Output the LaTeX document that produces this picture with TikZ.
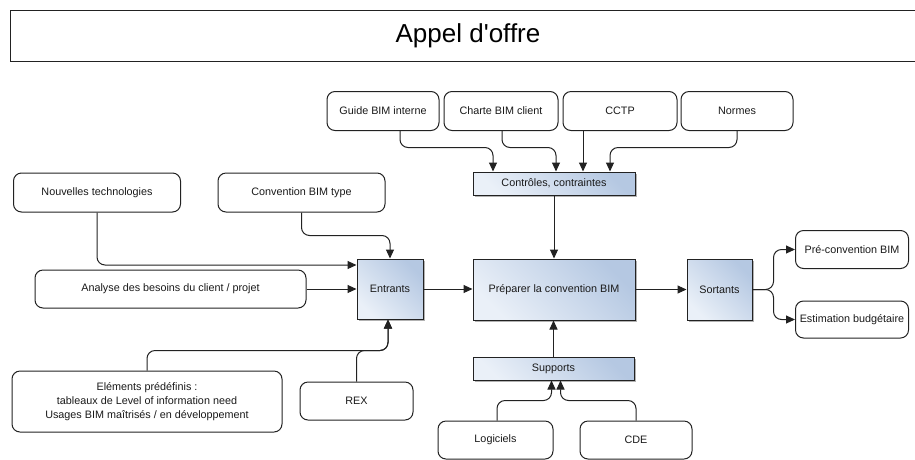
\documentclass[tikz,border=0pt]{standalone}
\usepackage{fontspec}
\setmainfont{Liberation Sans}
\usetikzlibrary{arrows.meta,shadows,calc}
\definecolor{gLight}{HTML}{EAF0F8}
\definecolor{gDark}{HTML}{B5C8E2}
\definecolor{lineC}{HTML}{222222}
\definecolor{txtC}{HTML}{1A1A1A}
\tikzset{
  rbox/.style={draw=lineC, line width=1pt, rounded corners=8pt, fill=white, align=center,
    inner sep=0pt, text=txtC, font=\fontsize{10.8}{14}\selectfont},
  gbox/.style={draw=lineC, line width=1pt, align=center, inner sep=0pt, text=txtC,
    font=\fontsize{10.8}{14}\selectfont, shading=axis, top color=gLight, bottom color=gDark, shading angle=135,
    drop shadow={shadow xshift=2pt, shadow yshift=-2pt, fill=black, opacity=0.3}},
  arr/.style={draw=lineC, line width=1pt, rounded corners=8pt, -{Triangle[length=9pt,width=8pt]}}
}
\begin{document}
\begin{tikzpicture}[x=1pt,y=-1pt]
\useasboundingbox (0,0) rectangle (915,459);
\fill[white] (0,0) rectangle (915,459);
% title
\node[draw=lineC, line width=1pt, minimum width=915pt, minimum height=51pt, inner sep=0pt, anchor=north west] (title) at (10,10) {};
\node[font=\fontsize{26}{30}\selectfont, text=black] (titletxt) at (468,36) {Appel d\textquotesingle offre};
% top boxes
\node[rbox, minimum width=112pt, minimum height=39pt] (guide) at (383,111) {Guide BIM interne};
\node[rbox, minimum width=114pt, minimum height=39pt] (charte) at (501,111) {Charte BIM client};
\node[rbox, minimum width=114pt, minimum height=39pt] (cctp) at (620,111) {CCTP};
\node[rbox, minimum width=112pt, minimum height=39pt] (normes) at (737,111) {Normes};
\node[gbox, minimum width=162pt, minimum height=23pt] (ctrl) at (554,183.5) {Contrôles, contraintes};
% left boxes
\node[rbox, minimum width=167pt, minimum height=39pt] (nouv) at (97,192.5) {Nouvelles technologies};
\node[rbox, minimum width=167pt, minimum height=39pt] (conv) at (301.5,192.5) {Convention BIM type};
\node[rbox, minimum width=271pt, minimum height=38pt] (analyse) at (170.5,289) {Analyse des besoins du client / projet};
% main row
\node[gbox, minimum width=66pt, minimum height=60pt] (entrants) at (390,289) {Entrants};
\node[gbox, minimum width=162pt, minimum height=61pt] (prep) at (554,289.5) {Préparer la convention BIM};
\node[gbox, minimum width=65pt, minimum height=61pt] (sortants) at (719.5,289.5) {Sortants};
% outputs
\node[rbox, minimum width=113pt, minimum height=38pt] (pre) at (852,249.5) {Pré-convention BIM};
\node[rbox, minimum width=113pt, minimum height=37pt] (estim) at (852,319.5) {Estimation budgétaire};
% bottom
\node[rbox, minimum width=270pt, minimum height=61pt] (elem) at (147,401.5) {Eléments prédéfinis :\\tableaux de Level of information need\\Usages BIM maîtrisés / en développement};
\node[rbox, minimum width=113pt, minimum height=38pt] (rex) at (356.5,401) {REX};
\node[gbox, minimum width=161pt, minimum height=23pt] (supports) at (553.5,368.5) {Supports};
\node[rbox, minimum width=115pt, minimum height=38pt] (logi) at (495.5,440) {Logiciels};
\node[rbox, minimum width=112pt, minimum height=38pt] (cde) at (636,440) {CDE};
% connectors top
\draw[arr] ([xshift=17pt]guide.south) -- ++(0,16.5) -| ([xshift=-61pt]ctrl.north);
\draw[arr] ([xshift=1pt]charte.south) -- ++(0,16.5) -| ([xshift=2pt]ctrl.north);
\draw[arr] ([xshift=-37pt]cctp.south) -- ([xshift=29pt]ctrl.north);
\draw[arr] (normes.south) -- ++(0,16.5) -| ([xshift=56pt]ctrl.north);
\draw[arr] (ctrl.south) -- (prep.north);
% connectors left
\draw[arr] (nouv.south) |- ([yshift=24pt]entrants.west);
\draw[arr] (conv.south) -- ++(0,23) -| (entrants.north);
\draw[arr] (analyse.east) -- (analyse.east -| entrants.west);
\draw[arr] (entrants.east) -- (entrants.east -| prep.west);
\draw[arr] (prep.east) -- (sortants.west);
% outputs
\draw[arr] (sortants.east) -- ++(21,0) |- (pre.west);
\draw[arr] (sortants.east) -- ++(21,0) |- (estim.west);
% bottom
\draw[arr] (elem.north) -- ++(0,-20) -| ([xshift=-2pt]entrants.south);
\draw[arr] (rex.north) -- ++(0,-31) -| ([xshift=-2pt]entrants.south);
\draw[arr] (supports.north) -- (supports.north |- prep.south);
\draw[arr] ([xshift=1.5pt]logi.north) -- ++(0,-20) -| ([xshift=-2pt]supports.south);
\draw[arr] (cde.north) -- ++(0,-20) -| ([xshift=7pt]supports.south);
\end{tikzpicture}
\end{document}
